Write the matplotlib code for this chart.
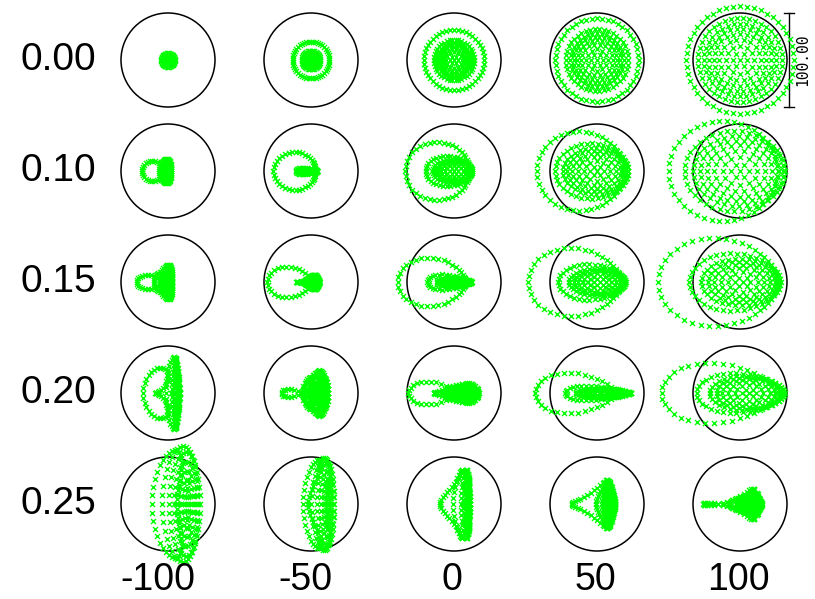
import numpy as np
import matplotlib
matplotlib.use("Agg")
import matplotlib.pyplot as plt
from matplotlib.patches import Circle

# Spot diagram grid: rows are field heights, columns are focus shifts
fields = [0.00, 0.10, 0.15, 0.20, 0.25]
focus_shifts = [-100, -50, 0, 50, 100]
row_labels = ["0.00", "0.10", "0.15", "0.20", "0.25"]
col_labels = ["-100", "-50", "0", "50", "100"]

# Ray aberration coefficients per field (image units; reference circle radius 50)
spherical3 = -20.0
tan_defocus = [32.0, 34.0, 36.0, 28.5, 7.0]
tan_rate = [0.25, 0.24, 0.27, 0.35, 0.20]
sag_defocus = [32.0, 29.0, 21.0, 3.0, -33.0]
sag_rate = [0.25, 0.23, 0.23, 0.24, 0.22]
tan_spherical = [18.5, 16.0, 22.0, 12.5, 20.0]
tan_spherical_rate = [-0.025, -0.13, -0.035, 0.10, 0.0]
sag_spherical = [18.5, 24.0, 28.0, 27.0, 20.0]
sag_spherical_rate = [-0.025, -0.116, -0.06, -0.14, -0.10]
coma = [0.0, -6.0, -9.0, -10.0, -8.0]
lateral = [0.0, 0.0, 3.0, 10.0, 16.0]
lateral_rate = [0.0, 0.0, 0.0, 0.0, -0.04]

ref_radius = 50.0
scale_length = 100.0
n_rings = 8

# hexapolar pupil sampling
px_list, py_list = [0.0], [0.0]
for k in range(1, n_rings + 1):
    th = 2 * np.pi * np.arange(6 * k) / (6 * k)
    px_list.extend(k / n_rings * np.cos(th))
    py_list.extend(k / n_rings * np.sin(th))
pupil_x = np.array(px_list)
pupil_y = np.array(py_list)


def trace(row, shift):
    px, py = pupil_x, pupil_y
    r2 = px ** 2 + py ** 2
    low = spherical3 * (r2 - 1)
    s_t = tan_spherical[row] + tan_spherical_rate[row] * shift
    s_s = sag_spherical[row] + sag_spherical_rate[row] * shift
    ax_t = tan_defocus[row] + tan_rate[row] * shift + low + s_t * (r2 ** 4 - 1)
    ax_s = sag_defocus[row] + sag_rate[row] * shift + low + s_s * (r2 ** 4 - 1)
    k = coma[row] * (0.1 + 0.9 * r2 ** 4)
    x0 = lateral[row] + lateral_rate[row] * shift
    ex = x0 + px * ax_t + k * (3 * px ** 2 + py ** 2)
    ey = py * ax_s + k * 2 * px * py
    return ex, ey


W, H, DPI = 815, 599, 100
fig = plt.figure(figsize=(W / DPI, H / DPI), dpi=DPI)
fig.patch.set_facecolor("white")

px_per_unit = 0.94
cell_w, cell_h = 143, 111
col_centers = [168, 311, 454, 597, 740]
row_centers = [60, 171, 282, 393, 504]
half_x = cell_w / 2 / px_per_unit
half_y = cell_h / 2 / px_per_unit

for i, fld in enumerate(fields):
    for j, d in enumerate(focus_shifts):
        cx, cy = col_centers[j], row_centers[i]
        ax = fig.add_axes([(cx - cell_w / 2) / W, 1 - (cy + cell_h / 2) / H,
                           cell_w / W, cell_h / H])
        ax.set_xlim(-half_x, half_x)
        ax.set_ylim(-half_y, half_y)
        ax.axis("off")
        ax.add_patch(Circle((0, 0), ref_radius, fill=False, lw=1.1,
                            edgecolor="black", clip_on=False))
        ex, ey = trace(i, d)
        ax.scatter(ex, ey, marker="x", s=13, linewidths=1.0,
                   color="#00ff00", clip_on=False, zorder=3)
        if i == 0 and j == len(focus_shifts) - 1:
            bx = 52.0
            tick = 5.0
            ax.plot([bx, bx], [-scale_length / 2, scale_length / 2],
                    color="black", lw=1.0, clip_on=False)
            for yy in (-scale_length / 2, scale_length / 2):
                ax.plot([bx - tick, bx + tick], [yy, yy], color="black",
                        lw=1.0, clip_on=False)
            ax.text(bx + 15, 0, f"{scale_length:.2f}", rotation=90,
                    ha="center", va="center", family="DejaVu Sans Mono",
                    fontsize=10.5, clip_on=False)

for i, lab in enumerate(row_labels):
    fig.text(58 / W, 1 - row_centers[i] / H, lab, ha="center", va="center",
             family="Liberation Sans", fontsize=28)
label_x = [158, 305, 452, 595, 738]
for j, lab in enumerate(col_labels):
    fig.text(label_x[j] / W, 1 - 580 / H, lab, ha="center", va="center",
             family="Liberation Sans", fontsize=27)

fig.savefig("out.png", dpi=DPI)
